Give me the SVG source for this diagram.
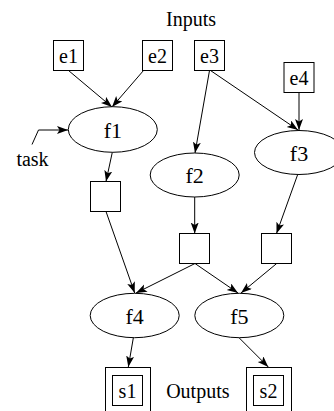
<svg xmlns="http://www.w3.org/2000/svg" width="334" height="411" viewBox="0 0 334 411">
<style>
.n rect, .n ellipse { fill: #fff; stroke: #000; stroke-width: 1; }
text { font-family: "Liberation Serif", "Times New Roman", serif; font-size: 20px; fill: #000; text-anchor: middle; }
.n text.f { font-size: 22px; }
.e path { fill: none; stroke: #000; stroke-width: 1; marker-end: url(#arr); }
</style>
<defs>
<marker id="arr" markerUnits="userSpaceOnUse" markerWidth="12" markerHeight="9" refX="11" refY="4" orient="auto">
<path d="M0,0 L11,4 L0,8 L2.5,4 Z" fill="#000"/>
</marker>
</defs>
<text x="191" y="26">Inputs</text>
<text x="197.8" y="398">Outputs</text>
<text x="32.5" y="165.5">task</text>
<g class="e" id="connectors">
<path d="M68.5,70.5 L112,107"/>
<path d="M143.5,70.5 L112,107"/>
<path d="M209.5,70.5 L195,153"/>
<path d="M210.5,70.5 L298,130"/>
<path d="M299,92.5 L299,130"/>
<path d="M32,144.5 L38.5,130 L68,130"/>
<path d="M112.3,152.3 L106,181.5"/>
<path d="M194.7,197 L194.7,233.5"/>
<path d="M297.7,174.5 L276.5,233.5"/>
<path d="M106,211.5 L134.7,293"/>
<path d="M195,263.5 L136,293"/>
<path d="M195,263.5 L238,293"/>
<path d="M276.7,263.5 L241,293"/>
<path d="M133.3,338 L128.3,367"/>
<path d="M239.3,338 L268.3,367"/>
</g>
<g class="n" id="e1"><rect x="53.5" y="40.5" width="30" height="30"/><text x="68.5" y="63">e1</text></g>
<g class="n" id="e2"><rect x="142.5" y="40.5" width="30" height="30"/><text x="157.5" y="63">e2</text></g>
<g class="n" id="e3"><rect x="194.5" y="40.5" width="30" height="30"/><text x="209.5" y="63">e3</text></g>
<g class="n" id="e4"><rect x="284" y="62.5" width="30" height="30"/><text x="299" y="85">e4</text></g>
<g class="n" id="f1"><ellipse cx="112.8" cy="129.5" rx="44.5" ry="22.8"/><text class="f" x="112.8" y="137.5">f1</text></g>
<g class="n" id="f2"><ellipse cx="194.7" cy="175" rx="44.5" ry="22"/><text class="f" x="194.7" y="183">f2</text></g>
<g class="n" id="f3"><ellipse cx="299" cy="152.5" rx="44.5" ry="22"/><text class="f" x="299" y="160.5">f3</text></g>
<g class="n" id="b1"><rect x="90.5" y="181.5" width="30" height="30"/></g>
<g class="n" id="b2"><rect x="179.5" y="233.5" width="30" height="30"/></g>
<g class="n" id="b3"><rect x="261.5" y="233.5" width="30" height="30"/></g>
<g class="n" id="f4"><ellipse cx="134.7" cy="315.5" rx="44.5" ry="22.2"/><text class="f" x="134.7" y="323.5">f4</text></g>
<g class="n" id="f5"><ellipse cx="239.3" cy="315.5" rx="44.5" ry="22.2"/><text class="f" x="239.3" y="323.5">f5</text></g>
<g class="n" id="s1"><rect x="105.5" y="367.5" width="45" height="46"/><rect x="112.5" y="375.5" width="30" height="30"/><text x="127.5" y="398">s1</text></g>
<g class="n" id="s2"><rect x="246.5" y="367.5" width="45" height="46"/><rect x="253.5" y="375.5" width="30" height="30"/><text x="268.5" y="398">s2</text></g>
</svg>
